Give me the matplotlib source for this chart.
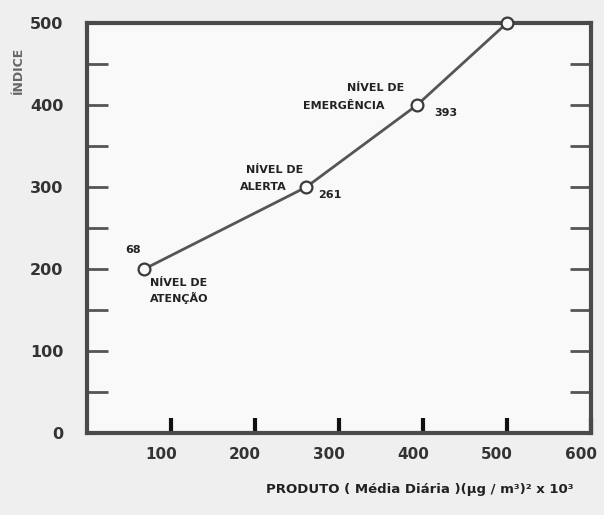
import matplotlib
matplotlib.use("Agg")
import matplotlib.pyplot as plt
from matplotlib.ticker import MultipleLocator
from matplotlib.transforms import ScaledTranslation

# Data
produto = [68, 261, 393, 500]
indice = [200, 300, 400, 500]
x_ticks = [100, 200, 300, 400, 500, 600]
y_ticks = [0, 100, 200, 300, 400, 500]

plt.rcParams['font.family'] = ['DejaVu Sans']

fig = plt.figure(figsize=(6.04, 5.15), dpi=100, facecolor='#efefef')
ax = fig.add_axes([0.144, 0.159, 0.834, 0.796], facecolor='#f9f9f9')

dark = '#3a3a3a'
ax.plot(produto, indice, color='#555555', lw=2.0, zorder=2)
ax.plot(produto, indice, ls='none', marker='o', ms=8.5, mfc='#f9f9f9',
        mec=dark, mew=1.6, zorder=3, clip_on=False)

ax.set_xlim(0, 600)
ax.set_ylim(0, 500)

for s in ax.spines.values():
    s.set_color('#4a4a4a')
    s.set_linewidth(3)

ax.set_xticks(x_ticks)
ax.set_xticklabels([str(v) for v in x_ticks], fontsize=11, fontweight='bold', color='#333333')
ax.set_yticks(y_ticks)
ax.set_yticklabels([str(v) for v in y_ticks], fontsize=11.5, fontweight='bold', color='#333333')
ax.yaxis.set_minor_locator(MultipleLocator(50))

ax.tick_params(axis='x', which='major', direction='in', length=11, width=3,
               color='#111111', pad=10, bottom=True, top=False)
ax.tick_params(axis='y', which='both', direction='in', length=15, width=2,
               color='#555555', pad=17, left=True, right=True)

shift = ScaledTranslation(-10 / 100, 0, fig.dpi_scale_trans)
for lab in ax.get_xticklabels():
    lab.set_transform(lab.get_transform() + shift)

ann = dict(fontsize=8, fontweight='bold', color='#222222', va='center', ha='left')
ax.text(55, 223, '68', **{**ann, 'ha': 'center'})
ax.text(75, 183, 'NÍVEL DE', **ann)
ax.text(75, 165, 'ATENÇÃO', **ann)
ax.text(190, 321, 'NÍVEL DE', **ann)
ax.text(182, 300, 'ALERTA', **ann)
ax.text(275, 290, '261', **ann)
ax.text(310, 421, 'NÍVEL DE', **ann)
ax.text(257, 399, 'EMERGÊNCIA', **ann)
ax.text(414, 391, '393', **ann)

fig.text(18 / 604, 1 - 70 / 515, 'ÍNDICE', rotation=90, ha='center', va='center',
         fontsize=9, fontweight='bold', color='#666666')
fig.text(420 / 604, 1 - 490 / 515, 'PRODUTO ( Média Diária )(μg / m³)² x 10³',
         ha='center', va='center', fontsize=9.5, fontweight='bold', color='#222222')

fig.savefig('out.png', dpi=100, facecolor=fig.get_facecolor())
